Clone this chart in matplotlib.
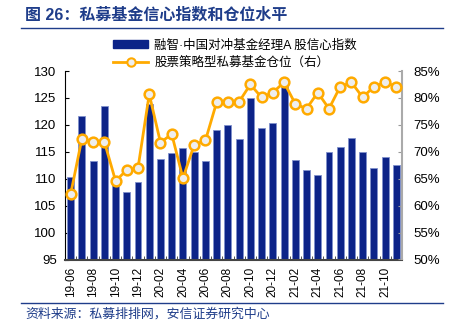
import numpy as np
import matplotlib
matplotlib.use('Agg')
import matplotlib.pyplot as plt
from matplotlib.lines import Line2D
from matplotlib.patches import Patch

plt.rcParams['font.family'] = ['Liberation Sans', 'Noto Sans CJK SC', 'DejaVu Sans']

# monthly data 19-06 .. 21-11
months = ['19-06', '19-07', '19-08', '19-09', '19-10', '19-11', '19-12',
          '20-01', '20-02', '20-03', '20-04', '20-05', '20-06', '20-07',
          '20-08', '20-09', '20-10', '20-11', '20-12', '21-01', '21-02',
          '21-03', '21-04', '21-05', '21-06', '21-07', '21-08', '21-09',
          '21-10', '21-11']
confidence = [110.4, 121.7, 113.2, 123.5, 109.3, 107.6, 109.3, 123.9, 113.7, 114.7,
              115.7, 115.0, 113.2, 119.1, 119.9, 117.3, 124.9, 119.5, 120.4, 127.3,
              113.4, 111.7, 110.7, 115.0, 115.9, 117.5, 115.0, 112.0, 114.1, 112.5]
position = [62.1, 72.4, 71.9, 71.9, 64.6, 66.6, 67.0, 80.7, 71.7, 73.3,
            65.1, 71.3, 72.1, 79.2, 79.2, 79.3, 82.5, 80.1, 81.0, 82.9,
            78.9, 78.0, 81.0, 78.0, 82.1, 82.9, 80.1, 82.1, 82.9, 82.1]

bar_label = '融智·中国对冲基金经理A 股信心指数'
line_label = '股票策略型私募基金仓位（右）'
title = '图 26：私募基金信心指数和仓位水平'
source = '资料来源：私募排排网，安信证券研究中心'

navy = '#0C2388'
orange = '#FFAA00'
dark_blue = '#1F3D8A'

W, H = 451, 330
fig = plt.figure(figsize=(W/100, H/100), dpi=100)
ax = fig.add_axes([65/W, 1-259.5/H, (402-65)/W, (259.5-71)/H])

x = np.arange(len(months))
ax.bar(x, confidence, width=0.62, color=navy, edgecolor='#8090CC', linewidth=0.6, zorder=2)
ax.set_ylim(95, 130)
ax.set_xlim(-0.5, len(months)-0.5)
ax.set_yticks(np.arange(95, 131, 5))
ax.set_xticks(x[::2])
ax.set_xticklabels(months[::2], rotation=90, fontsize=8.5)
ax.set_xticks(np.arange(-0.5, len(months), 1), minor=True)
ax.tick_params(axis='x', which='major', length=0, pad=5)
ax.tick_params(axis='x', which='minor', direction='in', length=3, color='#333333')
ax.tick_params(axis='y', direction='in', length=3, labelsize=9.5, pad=6)

ax2 = ax.twinx()
ax2.plot(x, position, color=orange, linewidth=2, marker='o', markersize=7,
         markerfacecolor='#EEEEEE', markeredgecolor=orange, markeredgewidth=1.8, zorder=3)
ax2.set_ylim(50, 85)
ax2.set_yticks(np.arange(50, 86, 5))
ax2.set_yticklabels(['%d%%' % v for v in range(50, 86, 5)])
ax2.tick_params(axis='y', direction='in', length=3, labelsize=9.5, pad=8, color='#999999')

for a in (ax, ax2):
    a.spines['top'].set_visible(False)
ax.spines['left'].set_color('black')
ax2.spines['left'].set_visible(False)
ax2.spines['right'].set_color('#AAAAAA')
ax2.spines['right'].set_linewidth(1.5)
ax.spines['right'].set_visible(False)
ax.spines['bottom'].set_color('#444444')
ax.spines['bottom'].set_linewidth(1.5)
ax2.spines['bottom'].set_visible(False)

handles = [Patch(color=navy),
           Line2D([], [], color=orange, linewidth=2, marker='o', markersize=6,
                  markerfacecolor='#EEEEEE', markeredgecolor=orange, markeredgewidth=1.5)]
fig.legend(handles, [bar_label, line_label], loc='upper left',
           bbox_to_anchor=(102/W, 1-28/H), frameon=False, fontsize=9,
           handlelength=2.8, handleheight=0.5, labelspacing=0.4, handletextpad=0.5)

fig.text(25/W, 1-15/H, title, fontsize=11.5, fontweight='bold', color=dark_blue, va='center')
fig.add_artist(Line2D([21/W, 443/W], [1-28/H]*2, color=dark_blue, linewidth=1))
fig.add_artist(Line2D([21/W, 443/W], [1-303/H]*2, color=dark_blue, linewidth=1))
fig.text(25/W, 1-314/H, source, fontsize=9.3, color=dark_blue, style='italic', va='center')

fig.savefig('out.png', dpi=100)
